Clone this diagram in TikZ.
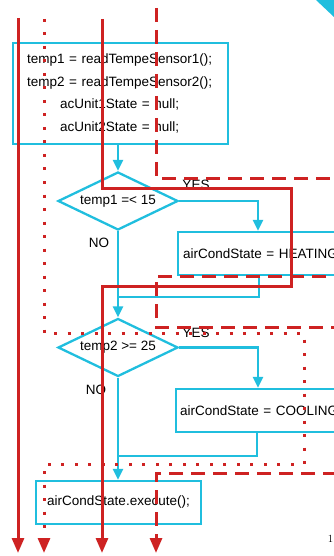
\documentclass[tikz,border=0pt]{standalone}
\usepackage{fontspec}
\newfontfamily\arial{Liberation Sans}
\usetikzlibrary{shapes.geometric,arrows.meta}
\definecolor{flowcyan}{RGB}{32,190,222}
\definecolor{pathred}{RGB}{206,34,34}
\tikzset{
  stmt/.style={draw=flowcyan, line width=2.3pt, rectangle, inner ysep=0pt,
    font=\arial\fontsize{13.5}{22.5}\selectfont},
  cond/.style={draw=flowcyan, line width=2.3pt, diamond, aspect=2.07, inner sep=0pt,
    minimum width=120pt, minimum height=58pt, font=\arial\fontsize{13.5}{16}\selectfont},
  lbl/.style={font=\arial\fontsize{13.5}{16}\selectfont, inner sep=0pt},
  flowline/.style={draw=flowcyan, line width=2.3pt},
  flow/.style={flowline, -{Triangle[length=11pt,width=10pt]}},
  redpath/.style={draw=pathred, line width=3pt, -{Triangle[length=15pt,width=12pt]}},
}
\begin{document}
\begin{tikzpicture}[x=1pt, y=-1pt]
  \useasboundingbox (0,0) rectangle (334,556);
  \clip (0,0) rectangle (334,556);
  % flowchart
  \node (init) [stmt, anchor=north west, text width=187pt, inner xsep=14pt, minimum height=101pt, align=left] at (12,42)
    {temp1 = readTempeSensor1();\\
     temp2 = readTempeSensor2();\\
     \hspace*{33pt}acUnit1State = null;\\
     \hspace*{33pt}acUnit2State = null;};
  \node (dec1) [cond] at (118,201) {temp1 =< 15};
  \node (heat) [stmt, anchor=west, text width=200pt, inner xsep=5pt, minimum height=43pt, align=left] at (177,253.5) {airCondState = HEATING};
  \node (dec2) [cond] at (118,347.5) {temp2 >= 25};
  \node (cool) [stmt, anchor=west, text width=200pt, inner xsep=4pt, minimum height=43pt, align=left] at (175,410.5) {airCondState = COOLING};
  \node (exec) [stmt, minimum width=165pt, minimum height=43pt] at (118.5,502.5) {airCondState.execute();};
  \node (yes1) [lbl] at (196,185) {YES};
  \node (no1) [lbl] at (99,243) {NO};
  \node (yes2) [lbl] at (196,333) {YES};
  \node (no2) [lbl] at (96,390) {NO};
  \coordinate (join1) at (118,297);
  \coordinate (join2) at (118,456);
  \draw [flow] (init.south -| dec1.north) to (dec1.north);
  \draw [flow] (dec1.east) -| ([xshift=81pt]heat.north west);
  \draw [flowline] ([xshift=82pt]heat.south west) |- (join1);
  \draw [flow] (dec1.south) to (dec2.north);
  \draw [flow] (dec2.east) -| ([xshift=83pt]cool.north west);
  \draw [flowline] ([xshift=82pt]cool.south west) |- (join2);
  \draw [flow] (dec2.south) to (dec2.south |- exec.north);
  \fill [flowcyan] (316,0) -- (334,0) -- (334,17) -- cycle;
  \node (page) [inner sep=0pt, font=\fontsize{11}{12}\selectfont] at (330.5,539) {1};
  % execution paths
  \coordinate (pathAtop) at (18,18);
  \coordinate (pathAend) at (18,553);
  \coordinate (pathBtop) at (44,19);
  \coordinate (pathBend) at (44,553);
  \coordinate (pathCtop) at (102,19);
  \coordinate (pathCend) at (102,553);
  \coordinate (pathDtop) at (156,8);
  \coordinate (pathDend) at (156,553);
  \draw [redpath] (pathAtop) -- (pathAend);
  \draw [redpath, dash pattern=on 3pt off 10.5pt] (pathBtop) -- (44,333) -- (304,333) -- (304,464) -- (44,464) -- (pathBend);
  \draw [redpath] (pathCtop) -- (102,188) -- (291,188) -- (291,286) -- (102,286) -- (pathCend);
  \draw [redpath, dash pattern=on 14pt off 8pt] (pathDtop) -- (156,178) -- (360,178) -- (360,276) -- (156,276) -- (156,327) -- (360,327) -- (360,473) -- (156,473) -- (pathDend);
\end{tikzpicture}
\end{document}
